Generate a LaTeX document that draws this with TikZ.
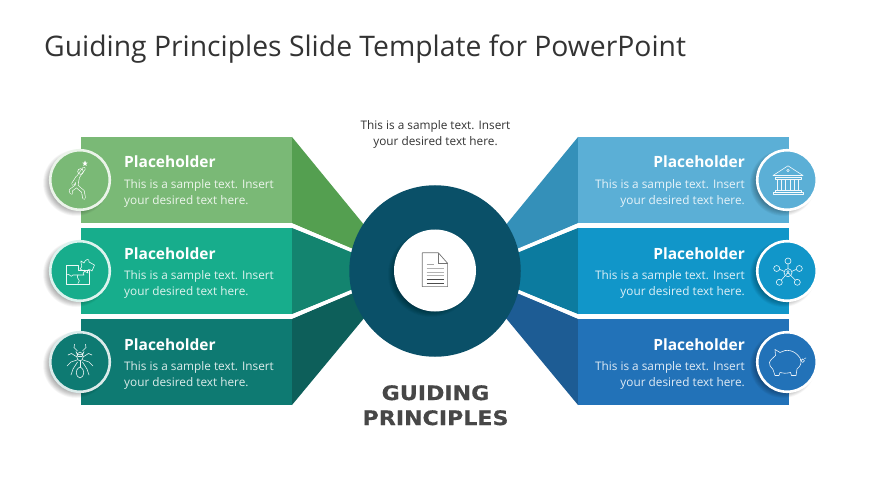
\documentclass[tikz,border=0pt]{standalone}
\usepackage{fontspec}
\setmainfont{Open Sans}
\newfontfamily\headfont[FakeStretch=1.107,FakeBold=0.5]{DejaVu Sans Bold}
\usetikzlibrary{calc}
\definecolor{ga}{HTML}{7AB976}\definecolor{gb}{HTML}{549F50}
\definecolor{ta}{HTML}{17AD8C}\definecolor{tb}{HTML}{13846F}
\definecolor{da}{HTML}{0E7A72}\definecolor{db}{HTML}{0D5F5A}
\definecolor{la}{HTML}{5BAFD6}\definecolor{lb}{HTML}{3490B9}
\definecolor{ma}{HTML}{1196C9}\definecolor{mb}{HTML}{0C7B9F}
\definecolor{ba}{HTML}{2272B8}\definecolor{bb}{HTML}{1D5C94}
\definecolor{hub}{HTML}{0A5068}
\definecolor{ink}{HTML}{333333}
\newcommand{\softshadow}[3]{%
  \foreach \k in {0,1,...,15}{\fill[black,opacity=.024] ($(#1,#2)+(-4,3)$) circle[radius={#3+4-.5*\k}];}}
\tikzset{
  x=1pt,y=-1pt,
  heading/.style={text=white,font=\fontsize{15.5}{15.5}\selectfont\bfseries,inner sep=0pt},
  leftbody/.style={text=white,text opacity=.86,font=\fontsize{11.8}{15.6}\selectfont,inner sep=0pt,align=left,anchor=north west},
  rightbody/.style={text=white,text opacity=.86,font=\fontsize{11.8}{15.6}\selectfont,inner sep=0pt,align=right,anchor=north east},
  badge/.style={circle,draw=#1,line width=2.6pt,minimum size=59.5pt,inner sep=0pt},
  icon/.style={draw=white,line width=.6pt,line join=round,line cap=round,opacity=.92},
  docline/.style={draw=#1,line width=.8pt},
}
\begin{document}
\begin{tikzpicture}
\useasboundingbox (0,0) rectangle (870,489);
\fill[white] (0,0) rectangle (870,489);

\node[anchor=base west,inner sep=0pt,text=ink,font=\fontsize{28.3}{30}\selectfont] (title) at (44,56.5) {Guiding Principles Slide Template for PowerPoint};

% side wedges, left
\fill[gb] (292,137) -- (292,223) -- (352,249) -- (370,240) -- (365,226) -- cycle;
\fill[tb] (292,228) -- (292,314) -- (352,290) -- (352,252) -- cycle;
\fill[db] (292,319) -- (292,405) -- (365,317) -- (370,300) -- (352,293) -- cycle;
% side wedges, right
\fill[lb] (578,137) -- (578,223) -- (518,249) -- (500,240) -- (505,226) -- cycle;
\fill[mb] (578,228) -- (578,314) -- (518,290) -- (518,252) -- cycle;
\fill[bb] (578,319) -- (578,405) -- (505,317) -- (500,300) -- (518,293) -- cycle;
% white seams
\coordinate (sa) at (292,225.5); \coordinate (sb) at (352,250.5);
\coordinate (sc) at (292,316.5); \coordinate (sd) at (352,291.5);
\coordinate (se) at (578,225.5); \coordinate (sf) at (518,250.5);
\coordinate (sg) at (578,316.5); \coordinate (sh) at (518,291.5);
\draw[white,line width=3.6pt] (sa) -- (sb) (sc) -- (sd) (se) -- (sf) (sg) -- (sh);

% panels
\fill[ga] (81,137) rectangle (292,223);
\fill[ta] (81,228) rectangle (292,314);
\fill[da] (81,319) rectangle (292,405);
\fill[la] (578,137) rectangle (789,223);
\fill[ma] (578,228) rectangle (789,314);
\fill[ba] (578,319) rectangle (789,405);

% hub
\node[circle,fill=hub,minimum size=171.5pt,inner sep=0pt] (hubc) at (435,271) {};
\softshadow{435}{271}{39}
\node[circle,fill=white,minimum size=82pt,inner sep=0pt] (hole) at (435,270.5) {};
% document icon
\draw[draw=gray!90!black,line width=.7pt,line join=round,fill=white] (422.3,252.8) -- (438.3,252.8) -- (447.6,263.3) -- (447.6,286.6) -- (422.3,286.6) -- cycle;
\draw[draw=gray!90!black,line width=.7pt] (438.3,252.8) -- (438.3,263.3) -- (447.6,263.3);
\draw[docline=gray!70] (426.5,264) -- (434,264);
\draw[docline=gray!60] (426.5,268) -- (443.5,268);
\draw[docline=gray!60] (426.5,272) -- (443.5,272);
\draw[docline=gray!60] (426.5,275.5) -- (443.5,275.5);
\draw[docline=black!70] (426.5,279.5) -- (443.5,279.5);
\draw[docline=black!70] (426.5,283) -- (443.5,283);

% badges left
\softshadow{80}{180}{29}\softshadow{80}{271}{29}\softshadow{80}{362}{29}
\node[badge=white!85!ga,fill=ga] (b1) at (80,180) {};
\node[badge=white!85!ta,fill=ta] (b2) at (80,271) {};
\node[badge=white!85!da,fill=da] (b3) at (80,362) {};
% badges right
\softshadow{787}{180}{29}\softshadow{787}{271}{29}\softshadow{787}{362}{29}
\node[badge=white,fill=la] (b4) at (787,180) {};
\node[badge=white,fill=ma] (b5) at (787,271) {};
\node[badge=white,fill=ba] (b6) at (787,362) {};

% runner icon
\begin{scope}[line cap=round,line join=round]
\draw[white,line width=3.4pt] (84,168.5) -- (78,177) -- (76.5,186) -- (70.5,190.5) -- (71.5,193);
\draw[white,line width=3.4pt] (76.5,186) -- (83,191.5) -- (84,198);
\draw[white,line width=3.4pt] (77.5,177) -- (73,184);
\draw[ga,line width=2.2pt] (84,168.5) -- (78,177) -- (76.5,186) -- (70.5,190.5) -- (71.5,193);
\draw[ga,line width=2.2pt] (76.5,186) -- (83,191.5) -- (84,198);
\draw[ga,line width=2.2pt] (77.5,177) -- (73,184);
\draw[icon] (80.5,171.5) circle[radius=2.8];
\fill[white] (85,160.5) -- (85.8,162.5) -- (87.6,162.7) -- (86.2,164) -- (86.7,166) -- (85,164.9) -- (83.3,166) -- (83.8,164) -- (82.4,162.7) -- (84.2,162.5) -- cycle;
\end{scope}

% puzzle icon
\draw[icon] (66.5,265) -- (78,265) -- (78,270) -- (89,270) -- (89,284) -- (66.5,284) -- cycle;
\draw[icon] (66.5,275) .. controls (70,272) and (70,279) .. (73,275) -- (78,275) .. controls (75,279) and (82,279) .. (78,283.5);
\draw[icon] (78,275) -- (84,275) .. controls (81,272) and (87,272) .. (84.5,270);
\draw[icon] (81,261) -- (84,263) .. controls (85,259) and (90,258) .. (89,262) -- (94.5,265) -- (92,271) .. controls (89,268) and (86,270) .. (88,273) -- (80,269) .. controls (84,266) and (80,263) .. cycle;

% ant icon
\draw[icon] (76,351.5) arc[start angle=180,end angle=360,x radius=4,y radius=-3.4] -- (82,356.5) -- (78,356.5) -- cycle;
\draw[icon] (80,356.5) ellipse[x radius=3.2,y radius=4.4];
\draw[icon] (80,367) .. controls (74,370) and (76,377) .. (80,378) .. controls (84,377) and (86,370) .. (80,367) -- cycle;
\draw[icon] (80,361) -- (80,367);
\draw[icon] (77.5,351) -- (74,347.5) -- (74.5,344.5) (82.5,351) -- (86,347.5) -- (85.5,344.5);
\draw[icon] (77,357) -- (71.5,353.5) -- (68,355) (83,357) -- (88.5,353.5) -- (92,355);
\draw[icon] (77,360) -- (71,362) -- (67,366) (83,360) -- (89,362) -- (93,366);
\draw[icon] (77.5,362) -- (73,369) -- (71,375) (82.5,362) -- (87,369) -- (89,375);

% bank icon
\draw[icon] (773,175.5) -- (788,165.8) -- (803,175.5) -- cycle;
\draw[icon] (788,170.5) circle[radius=1.3];
\draw[icon] (775,177.8) rectangle (801,179.5);
\foreach \cx in {777.5,781.5,785.5,790.5,794.5,798.5}{\draw[icon] (\cx,180) -- (\cx,190);}
\draw[icon] (775,190.5) rectangle (801,192);
\draw[icon] (773,192) rectangle (803,194.5);

% network icon
\draw[icon] (788,272.7) circle[radius=4];
\draw[icon] (788,271.6) circle[radius=1.1];
\draw[icon] (785.8,275.4) arc[start angle=180,end angle=360,radius=2.2];
\foreach \px/\py in {788/261,776.7/268.5,799.3/268.5,779.3/282.3,797.3/282.3}{\draw[icon] (\px,\py) circle[radius=3];}
\draw[icon] (788,264) -- (788,268.7) (779.6,269.3) -- (784.2,271.4) (796.4,269.3) -- (791.8,271.4) (781.3,280.1) -- (785.2,275.6) (795.3,280.1) -- (790.8,275.6);

% piggy icon
\draw[icon] (775,349.5) -- (780,352.5) .. controls (786,348.5) and (795,350) .. (800,358) .. controls (802,362) and (801,366) .. (797,369) -- (796,375.5) -- (791.5,375.5) -- (790.5,372.5) .. controls (786,373.5) and (783,373.5) .. (780,372.5) -- (779,375.5) -- (775,375.5) -- (773,369.5) .. controls (771,367) and (768.5,365) .. (769.5,362.5) .. controls (770,360) and (773,358) .. (775.5,355.5) -- cycle;
\draw[icon] (802.7,360.7) circle[radius=1.8];
\draw[icon] (800.5,359.5) -- (801,359.8) (804.5,358.5) -- (806,358);

% left text
\node[heading,anchor=base west] (h1) at (124,168) {Placeholder};
\node[heading,anchor=base west] (h2) at (124,259) {Placeholder};
\node[heading,anchor=base west] (h3) at (124,350) {Placeholder};
\node[leftbody] (t1) at (124,179.5) {This is a sample text. Insert\\your desired text here.};
\node[leftbody] (t2) at (124,270.5) {This is a sample text. Insert\\your desired text here.};
\node[leftbody] (t3) at (124,361.5) {This is a sample text. Insert\\your desired text here.};
% right text
\node[heading,anchor=base east] (h4) at (745,168) {Placeholder};
\node[heading,anchor=base east] (h5) at (745,259) {Placeholder};
\node[heading,anchor=base east] (h6) at (745,350) {Placeholder};
\node[rightbody] (t4) at (745,179.5) {This is a sample text. Insert\\your desired text here.};
\node[rightbody] (t5) at (745,270.5) {This is a sample text. Insert\\your desired text here.};
\node[rightbody] (t6) at (745,361.5) {This is a sample text. Insert\\your desired text here.};

% centre captions
\node[inner sep=0pt,align=center,text=ink,font=\fontsize{11.8}{15.6}\selectfont,anchor=north] (cap) at (435.5,120.8) {This is a sample text. Insert\\your desired text here.};
\node[inner sep=0pt,align=center,text=black!72,font=\headfont\fontsize{20}{25}\selectfont,anchor=north] (gp) at (435.5,385) {GUIDING\\PRINCIPLES};
\end{tikzpicture}
\end{document}
